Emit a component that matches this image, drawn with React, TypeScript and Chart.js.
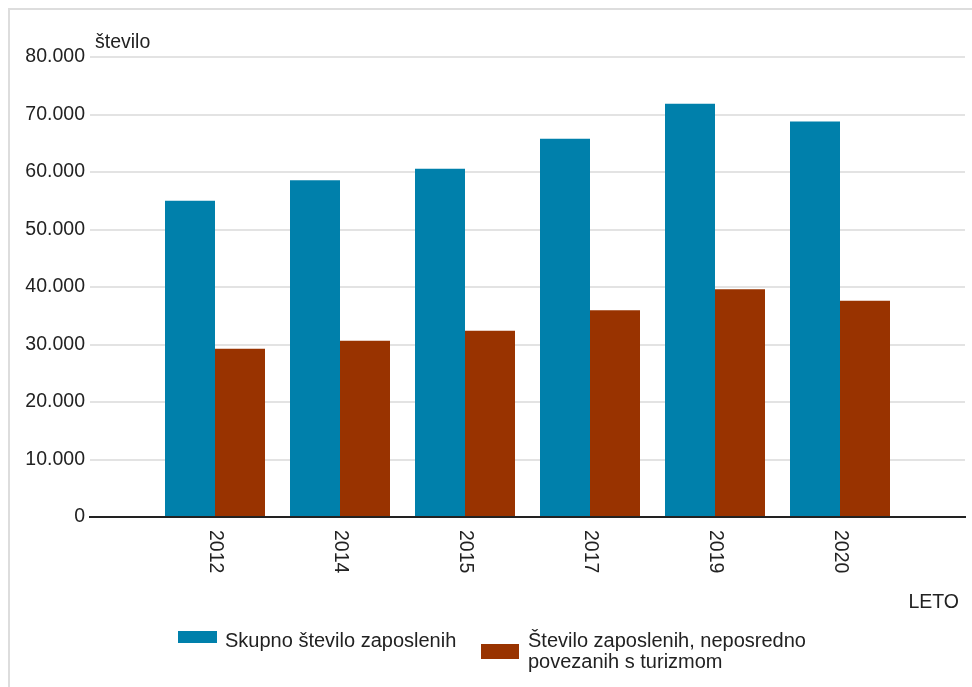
import React, { useEffect, useRef } from "react";
import { Chart, registerables } from "chart.js";

Chart.register(...registerables);

const categories = ["", "2012", "2014", "2015", "2017", "2019", "2020", ""];
const totalEmployed = [null, 55000, 58550, 60550, 65800, 71850, 68800, null];
const tourismEmployed = [null, 29250, 30650, 32400, 35950, 39600, 37600, null];
const seriesNames = ["Skupno število zaposlenih", "Število zaposlenih, neposredno povezanih s turizmom"];
const yAxisTitle = "število";
const xAxisTitle = "LETO";

const BLUE = "#0080ab";
const BROWN = "#993300";
const TEXT = "#222222";
const FONT_FAMILY = "'Liberation Sans', Arial, sans-serif";
const FONT_SIZE = 19.5;
const LEGEND_FONT_SIZE = 20;

function fmt(v: number): string {
  return String(Math.round(v)).replace(/\B(?=(\d{3})+(?!\d))/g, ".");
}

const labelsPlugin = {
  id: "customLabels",
  afterDraw(chart: any) {
    const ctx = chart.ctx;
    const xs = chart.scales.x;
    const area = chart.chartArea;
    ctx.save();
    ctx.fillStyle = TEXT;
    ctx.font = `${FONT_SIZE}px ${FONT_FAMILY}`;
    // rotated category labels (reading top to bottom)
    categories.forEach((c, i) => {
      if (!c) return;
      const x = xs.getPixelForValue(i);
      ctx.save();
      ctx.translate(x, area.bottom + 13);
      ctx.rotate(Math.PI / 2);
      ctx.textAlign = "left";
      ctx.textBaseline = "middle";
      ctx.fillText(c, 0, 0);
      ctx.restore();
    });
    // x axis title
    ctx.textAlign = "right";
    ctx.textBaseline = "middle";
    ctx.fillText(xAxisTitle, area.right - 6, area.bottom + 86);
    // y axis title
    ctx.textAlign = "left";
    ctx.textBaseline = "alphabetic";
    ctx.fillText(yAxisTitle, area.left + 5, area.top - 9);
    ctx.restore();
  },
};

export default function App() {
  const ref = useRef<HTMLCanvasElement | null>(null);

  useEffect(() => {
    if (!ref.current) return;
    const chart = new Chart(ref.current, {
      type: "bar",
      data: {
        labels: categories,
        datasets: [
          {
            label: seriesNames[0],
            data: totalEmployed as any,
            backgroundColor: BLUE,
            borderWidth: 0,
            categoryPercentage: 0.8,
            barPercentage: 1.0,
          },
          {
            label: seriesNames[1],
            data: tourismEmployed as any,
            backgroundColor: BROWN,
            borderWidth: 0,
            categoryPercentage: 0.8,
            barPercentage: 1.0,
          },
        ],
      },
      options: {
        responsive: false,
        animation: false,
        layout: { padding: { top: 57, right: 7, bottom: 0, left: 0 } },
        plugins: {
          legend: { display: false },
          tooltip: { enabled: false },
        },
        scales: {
          x: {
            offset: false,
            grid: { display: false, drawTicks: false },
            border: { display: true, color: "#222222", width: 2 },
            ticks: { display: false },
            afterFit(scale: any) {
              scale.height = 170;
            },
          },
          y: {
            min: 0,
            max: 80000,
            grid: { color: "#e3e3e3", lineWidth: 2, drawTicks: false },
            border: { display: false },
            ticks: {
              stepSize: 10000,
              padding: 5,
              color: TEXT,
              font: { family: FONT_FAMILY, size: FONT_SIZE },
              callback: (v: any) => fmt(Number(v)),
            },
            afterFit(scale: any) {
              scale.width = 90;
            },
          },
        },
      },
      plugins: [labelsPlugin],
    });
    return () => chart.destroy();
  }, []);

  const textStyle: React.CSSProperties = {
    position: "absolute",
    fontFamily: FONT_FAMILY,
    fontSize: LEGEND_FONT_SIZE,
    color: TEXT,
    lineHeight: "21px",
    whiteSpace: "nowrap",
  };

  return (
    <div
      style={{
        position: "fixed",
        left: 0,
        top: 0,
        width: 972,
        height: 687,
        overflow: "hidden",
        background: "#ffffff",
      }}
    >
      <div
        style={{
          position: "absolute",
          left: 8,
          top: 8,
          width: 1100,
          height: 1100,
          borderTop: "2px solid #dddddd",
          borderLeft: "2px solid #dddddd",
        }}
      />
      <canvas
        ref={ref}
        width={972}
        height={687}
        style={{ position: "absolute", left: 0, top: 0, width: 972, height: 687 }}
      />
      <div style={{ position: "absolute", left: 178, top: 631, width: 39, height: 12, background: BLUE }} />
      <div style={{ ...textStyle, left: 225, top: 630 }}>{seriesNames[0]}</div>
      <div style={{ position: "absolute", left: 481, top: 644, width: 38, height: 15, background: BROWN }} />
      <div style={{ ...textStyle, left: 528, top: 630 }}>
        Število zaposlenih, neposredno
        <br />
        povezanih s turizmom
      </div>
    </div>
  );
}
